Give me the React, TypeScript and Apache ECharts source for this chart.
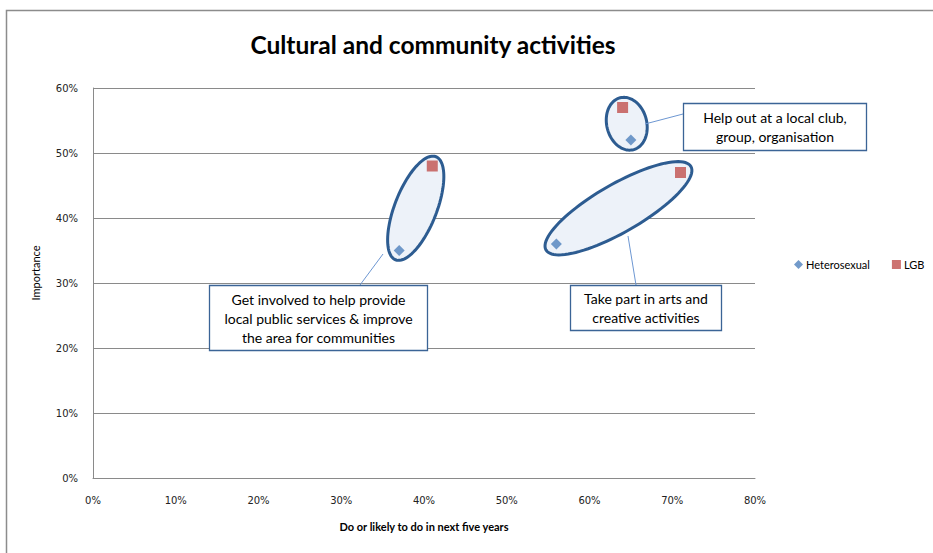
import React, { useEffect, useRef } from "react";
import * as echarts from "echarts";

// Data (percent values)
const seriesNames = ["Heterosexual", "LGB"];
const heterosexualPoints: [number, number][] = [
  [37, 35],
  [56, 36],
  [65, 52],
];
const lgbPoints: [number, number][] = [
  [41, 48],
  [71, 47],
  [64, 57],
];
const activities = [
  "Get involved to help provide\nlocal public services & improve\nthe area for communities",
  "Take part in arts and\ncreative activities",
  "Help out at a local club,\ngroup, organisation",
];
const xTicks = [0, 10, 20, 30, 40, 50, 60, 70, 80];
const yTicks = [0, 10, 20, 30, 40, 50, 60];

// styling for the ellipses drawn around each pair
const ellipseHalfWidth = [21, 24, 20];
const ellipsePad = [10, 12, 10];

const FONT = "Lato, 'Open Sans', sans-serif";
const AXFONT = "'DejaVu Sans', Verdana, sans-serif";

export default function App() {
  const ref = useRef<HTMLDivElement>(null);

  useEffect(() => {
    document.body.style.margin = "0";
    if (!ref.current) return;
    const chart = echarts.init(ref.current, undefined, { renderer: "svg" });

    const pairs = heterosexualPoints.map((h, i) => [h[0], h[1], lgbPoints[i][0], lgbPoints[i][1]]);

    const boxStroke = "#3b6496";
    const leader = "#6d97d2";

    const callout = (x: number, y: number, w: number, h: number, text: string) => ({
      type: "group",
      children: [
        {
          type: "rect",
          shape: { x, y, width: w, height: h },
          style: { fill: "#ffffff", stroke: boxStroke, lineWidth: 1.3 },
          z: 20,
        },
        {
          type: "text",
          x: x + w / 2,
          y: y + h / 2,
          style: {
            text,
            fill: "#000",
            font: `14px ${FONT}`,
            textAlign: "center",
            textVerticalAlign: "middle",
            lineHeight: 19,
          },
          z: 21,
        },
      ],
    });

    chart.setOption({
      animation: false,
      backgroundColor: "#ffffff",
      title: {
        text: "Cultural and community activities",
        left: 428,
        top: 27,
        textAlign: "center",
        textStyle: { fontFamily: FONT, fontSize: 24.5, fontWeight: "bold", color: "#000" },
      },
      legend: {
        data: seriesNames,
        left: 789,
        top: 254,
        itemWidth: 9,
        itemHeight: 9,
        itemGap: 22,
        textStyle: { fontFamily: FONT, fontSize: 11, color: "#000", padding: [0, 0, 0, -2] },
      },
      grid: { left: 93, right: 178, top: 88, bottom: 75 },
      xAxis: {
        type: "value",
        min: xTicks[0],
        max: xTicks[xTicks.length - 1],
        interval: 10,
        name: "Do or likely to do in next five years",
        nameLocation: "middle",
        nameGap: 43,
        nameTextStyle: { fontFamily: FONT, fontSize: 11, color: "#000", fontWeight: "bold" },
        axisLine: { show: true, lineStyle: { color: "#8a8a8a", width: 1 } },
        axisTick: { show: false },
        splitLine: { show: false },
        axisLabel: {
          formatter: "{value}%",
          margin: 17,
          fontFamily: AXFONT,
          fontSize: 10,
          color: "#222",
        },
      },
      yAxis: {
        type: "value",
        min: yTicks[0],
        max: yTicks[yTicks.length - 1],
        interval: 10,
        name: "Importance",
        nameLocation: "middle",
        nameGap: 52,
        nameTextStyle: { fontFamily: FONT, fontSize: 11, color: "#000", padding: [0, 0, 0, 20] },
        axisLine: { show: true, lineStyle: { color: "#8a8a8a", width: 1 } },
        axisTick: { show: false },
        splitLine: { show: true, lineStyle: { color: "#8a8a8a", width: 1 } },
        axisLabel: {
          formatter: "{value}%",
          margin: 15,
          fontFamily: AXFONT,
          fontSize: 10,
          color: "#222",
        },
      },
      series: [
        {
          type: "custom",
          name: "groups",
          data: pairs,
          encode: { x: [0, 2], y: [1, 3] },
          clip: false,
          z: 1,
          silent: true,
          renderItem: (params: any, api: any) => {
            const p1 = api.coord([api.value(0), api.value(1)]);
            const p2 = api.coord([api.value(2), api.value(3)]);
            const cx = (p1[0] + p2[0]) / 2;
            const cy = (p1[1] + p2[1]) / 2;
            const dx = p2[0] - p1[0];
            const dy = p2[1] - p1[1];
            const len = Math.hypot(dx, dy) || 1;
            const ux = dx / len;
            const uy = dy / len;
            const vx = -uy;
            const vy = ux;
            const a = len / 2 + ellipsePad[params.dataIndex];
            const b = ellipseHalfWidth[params.dataIndex];
            const pts: number[][] = [];
            for (let k = 0; k < 96; k++) {
              const t = (k / 96) * Math.PI * 2;
              const c = Math.cos(t);
              const s = Math.sin(t);
              pts.push([cx + a * c * ux + b * s * vx, cy + a * c * uy + b * s * vy]);
            }
            return {
              type: "polygon",
              shape: { points: pts },
              style: { fill: "#edf2f9", stroke: "#2d5c91", lineWidth: 3 },
            };
          },
        },
        {
          type: "scatter",
          name: seriesNames[0],
          data: heterosexualPoints,
          symbol: "diamond",
          symbolSize: [11, 11],
          itemStyle: { color: "#4f81bd" },
          z: 5,
        },
        {
          type: "scatter",
          name: seriesNames[1],
          data: lgbPoints,
          symbol: "rect",
          symbolSize: 11,
          itemStyle: { color: "#c0504d" },
          z: 5,
        },
      ],
      graphic: [
        {
          type: "rect",
          shape: { x: 6.5, y: 10.5, width: 1200, height: 1200 },
          style: { fill: "none", stroke: "#8c8c8c", lineWidth: 1.5 },
          silent: true,
          z: 0,
        },
        {
          type: "line",
          shape: { x1: 383, y1: 254, x2: 360, y2: 285 },
          style: { stroke: leader, lineWidth: 1 },
          z: 19,
        },
        {
          type: "line",
          shape: { x1: 628, y1: 236, x2: 636, y2: 285 },
          style: { stroke: leader, lineWidth: 1 },
          z: 19,
        },
        {
          type: "line",
          shape: { x1: 645, y1: 124, x2: 683, y2: 114 },
          style: { stroke: leader, lineWidth: 1 },
          z: 19,
        },
        callout(209.5, 285.5, 218, 65, activities[0]),
        callout(570.5, 285.5, 151, 45, activities[1]),
        callout(683.5, 103.5, 183, 47, activities[2]),
      ],
    });

    return () => chart.dispose();
  }, []);

  return <div ref={ref} style={{ width: 933, height: 553 }} />;
}
